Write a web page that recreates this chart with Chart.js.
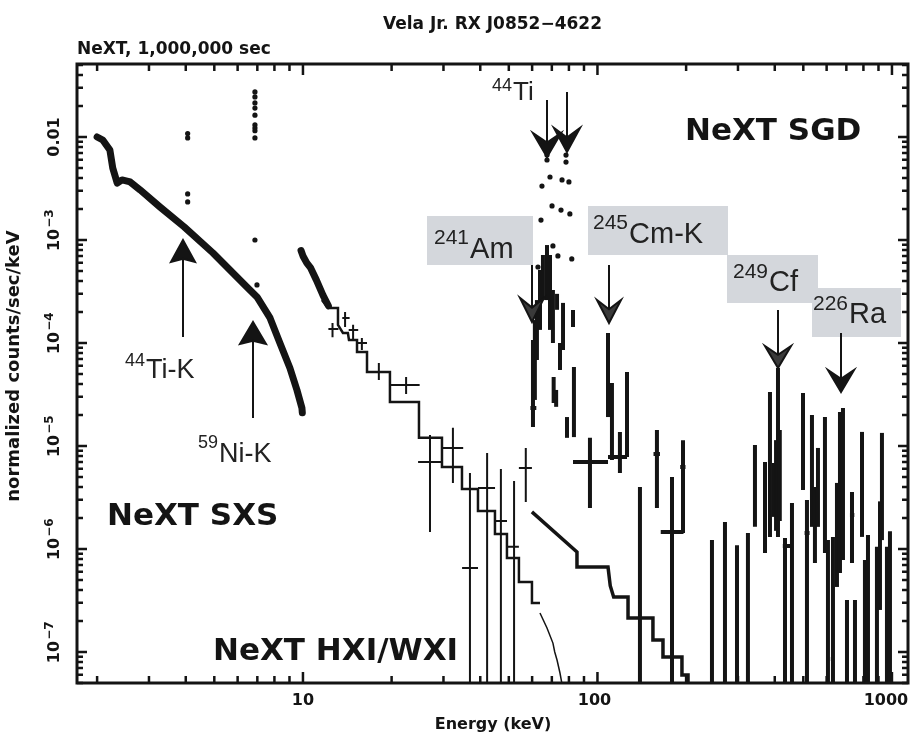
<!DOCTYPE html>
<html>
<head>
<meta charset="utf-8">
<title>Vela Jr. RX J0852-4622</title>
<script src="https://cdn.jsdelivr.net/npm/chart.js@4/dist/chart.umd.min.js"></script>
<style>
  html, body { margin: 0; padding: 0; background: #fff; }
  #chart { display: block; }
</style>
</head>
<body>
<canvas id="chart" width="915" height="737"></canvas>
<script>
// axis ticks
const xTickValues = [10, 100, 1000]
const xTickLabels = ['10', '100', '1000']
const yTickValues = [1e-2, 1e-3, 1e-4, 1e-5, 1e-6, 1e-7]
const yTickBase = ['0.01', '10', '10', '10', '10', '10']
const yTickExp = ['', '−3', '−4', '−5', '−6', '−7']

// NeXT SXS spectrum (keV, counts/sec/keV)
const sxsEnergy = [2.00, 2.09, 2.21, 2.26, 2.34, 2.43, 2.59, 2.80, 3.27, 3.95, 4.95, 6.45, 6.98, 7.73, 8.35, 9.03, 9.54, 9.92, 9.95]
const sxsRate = [1.00e-2, 9.35e-3, 7.48e-3, 5.0e-3, 3.57e-3, 3.83e-3, 3.66e-3, 3.06e-3, 2.09e-3, 1.34e-3, 7.48e-4, 3.5e-4, 2.80e-4, 1.75e-4, 1.0e-4, 5.72e-5, 3.5e-5, 2.34e-5, 2.1e-5]
// narrow lines seen by SXS (Ti-K, Fe/Ni-K)
const sxsLineEnergy = [4.06, 4.06, 4.06, 4.06, 6.87, 6.87, 6.87, 6.87, 6.87, 6.87, 6.87, 6.87, 6.87, 6.87, 6.98]
const sxsLineRate = [1.08e-2, 9.8e-3, 2.8e-3, 2.34e-3, 2.74e-2, 2.45e-2, 2.14e-2, 1.91e-2, 1.63e-2, 1.31e-2, 1.22e-2, 1.15e-2, 9.8e-3, 1.0e-3, 3.66e-4]

// NeXT HXI/WXI
const hxiDenseEnergy = [9.85, 10.0, 10.3, 10.6, 11.1, 11.7, 12.2]
const hxiDenseRate = [7.9e-4, 7.0e-4, 6.0e-4, 5.4e-4, 4.1e-4, 2.9e-4, 2.3e-4]
const hxiEnergy = [12.6, 13.9, 14.8, 15.85, 18.1, 22.4, 27.0, 32.3, 36.9, 42.2, 47.0, 52.1, 57.1]
const hxiRate = [1.37e-4, 1.75e-4, 1.34e-4, 1.0e-4, 5.23e-5, 3.9e-5, 7.0e-6, 9.57e-6, 6.55e-7, 3.91e-6, 1.87e-6, 1.05e-6, 6.1e-6]
// lower errors of 1e-9 run off the bottom of the plot
const hxiLo = [1.14e-4, 1.43e-4, 1.07e-4, 8.55e-5, 4.38e-5, 3.2e-5, 1.46e-6, 4.38e-6, 1e-9, 1e-9, 1e-9, 1e-9, 2.86e-6]
const hxiHi = [1.56e-4, 2.0e-4, 1.5e-4, 1.12e-4, 6.4e-5, 4.68e-5, 1.28e-5, 1.5e-5, 5.47e-6, 8.55e-6, 5.98e-6, 4.57e-6, 9.57e-6]
const hxiELo = [12.2, 13.6, 14.3, 15.3, 16.5, 19.7, 24.6, 29.6, 34.7, 39.3, 44.9, 49.3, 54.1]
const hxiEHi = [13.2, 14.4, 15.4, 16.5, 19.7, 24.9, 29.6, 35.0, 39.3, 44.9, 49.3, 54.1, 59.9]
const hxiModelEnergy = [11.6, 12.16, 13.15, 13.15, 13.67, 14.21, 14.33, 15.26, 15.26, 16.5, 16.5, 19.74, 19.74, 24.77, 24.77, 29.65, 29.65, 34.67, 34.67, 39.29, 39.29, 44.87, 44.87, 49.28, 49.28, 54.12, 54.12, 59.92, 59.92, 63.8]
const hxiModelRate = [2.61e-4, 2.19e-4, 2.19e-4, 1.50e-4, 1.25e-4, 1.25e-4, 1.07e-4, 1.07e-4, 8.18e-5, 8.18e-5, 5.23e-5, 5.23e-5, 2.67e-5, 2.67e-5, 1.2e-5, 1.2e-5, 6.25e-6, 6.25e-6, 3.83e-6, 3.83e-6, 2.34e-6, 2.34e-6, 1.4e-6, 1.4e-6, 8.18e-7, 8.18e-7, 4.79e-7, 4.79e-7, 2.99e-7, 2.99e-7]
const hxiTailEnergy = [63.8, 67.4, 70.6, 71.6, 72.9, 74.6, 76.4]
const hxiTailRate = [2.39e-7, 1.71e-7, 1.22e-7, 1.0e-7, 8.35e-8, 6.25e-8, 4.3e-8]

// NeXT SGD
const sgdLineEnergy = [67.4, 67.4, 78.2, 78.2, 69.0, 64.8, 75.8, 80.0, 70.1, 64.3, 75.2, 80.6, 70.6, 73.4, 81.8, 62.8]
const sgdLineRate = [6.68e-3, 5.98e-3, 6.68e-3, 5.71e-3, 4.09e-3, 3.34e-3, 3.83e-3, 3.66e-3, 2.14e-3, 1.56e-3, 1.95e-3, 1.79e-3, 8.75e-4, 7.0e-4, 6.55e-4, 5.47e-4]
const sgdEnergy = [60.4, 61.3, 62.3, 63.8, 65.3, 67.4, 69.0, 70.6, 72.9, 74.6, 76.4, 82.6, 71.0, 72.4, 78.8, 83.2,
  108.6, 112.0, 119.2, 126.0, 94.3, 139.4, 159.2, 179.1, 195.2,
  244.8, 271.0, 297.7, 324.3, 342.6, 370.6, 385.3, 397.5, 404, 410.2, 416, 433.3, 457.6, 498.7, 514.5, 535.0, 547.6, 560.7,
  592.2, 606.3, 630.5, 650.5, 666.0, 681.8, 703.5, 731.6, 748.9, 791.0, 809.6, 829.0, 889.2, 910.5, 924.7, 961.6, 984.5]
const sgdRate = [2.34e-5, 6.4e-5, 1.34e-4, 2.45e-4, 4.38e-4, 7.0e-4, 3.5e-4, 1.8e-4, 2.5e-4, 7.5e-5, 1.4e-4, 1.7e-4, 3.5e-5, 3.0e-5, 1.5e-5, 3.4e-5,
  7.3e-5, 2.3e-5, 7.82e-6, 3.0e-5, 7.0e-6, 2.0e-6, 8.36e-6, 1.46e-6, 6.25e-6,
  4e-7, 5e-7, 4e-7, 4e-7, 6.25e-6, 3.9e-6, 6e-6, 4e-6, 4e-6, 5e-6, 5e-6, 1.07e-6, 1.07e-6, 1.1e-5, 1.43e-6, 5e-6, 1.8e-6, 4e-6,
  3e-6, 3e-7, 8.55e-8, 1.5e-6, 3e-6, 5e-6, 1.46e-7, 2.14e-6, 1e-7, 4e-6, 2e-7, 3.83e-7, 1.75e-7, 1e-6, 4e-6, 3e-7, 4e-7]
const sgdLo = [1.53e-5, 2.8e-5, 6.84e-5, 1.34e-4, 2.61e-4, 2.61e-4, 1.34e-4, 1.0e-4, 2.1e-4, 5.47e-5, 8.55e-5, 1.43e-4, 2.61e-5, 2.4e-5, 1.2e-5, 1.22e-5,
  1.91e-5, 7.31e-6, 5.47e-6, 7.82e-6, 2.5e-6, 1e-9, 2.5e-6, 1e-9, 1.43e-6,
  1e-9, 1e-9, 1e-9, 1e-9, 1.64e-6, 9.14e-7, 1.31e-6, 2.05e-6, 1.5e-6, 1.31e-6, 1.87e-6, 1e-9, 1e-9, 3.74e-6, 1e-9, 1.64e-6, 7.31e-7, 1.64e-6,
  9.14e-7, 1e-9, 1e-9, 4.28e-7, 5.85e-7, 7.82e-7, 1e-9, 7.31e-7, 1e-9, 1.31e-6, 1e-9, 1e-9, 1e-9, 2.56e-7, 1.22e-6, 1e-9, 1e-9]
const sgdHi = [1.07e-4, 1.67e-4, 2.61e-4, 5.12e-4, 7.15e-4, 8.93e-4, 7.15e-4, 3.27e-4, 3.0e-4, 1.0e-4, 2.45e-4, 2.09e-4, 4.68e-5, 3.5e-5, 1.91e-5, 5.85e-5,
  1.25e-4, 4.09e-5, 1.37e-5, 5.23e-5, 1.2e-5, 4.0e-6, 1.43e-5, 5.0e-6, 1.14e-5,
  1.22e-6, 1.83e-6, 1.09e-6, 1.43e-6, 1.02e-5, 7.0e-6, 3.34e-5, 6.84e-6, 1.14e-5, 5.72e-5, 1.43e-5, 1.28e-6, 2.8e-6, 3.27e-5, 2.99e-6, 2.0e-5, 4.0e-6, 9.57e-6,
  1.91e-5, 1.22e-6, 1.31e-6, 4.38e-6, 2.14e-5, 2.34e-5, 3.2e-7, 3.57e-6, 3.2e-7, 1.37e-5, 7.82e-7, 1.37e-6, 1.05e-6, 2.9e-6, 1.34e-5, 1.05e-6, 1.49e-6]
const sgdELo = [59.2, 61.3, 62.3, 63.8, 65.3, 67.4, 69.0, 70.6, 72.9, 74.6, 76.4, 82.6, 70.2, 72.4, 78.8, 83.2,
  108.6, 112.0, 108.6, 126.0, 82.6, 139.4, 155, 164, 191,
  244.8, 271.0, 297.7, 324.3, 338, 366, 385.3, 397.5, 404, 410.2, 416, 426, 457.6, 498.7, 505, 535.0, 547.6, 560.7,
  592.2, 606.3, 620, 650.5, 666.0, 681.8, 693, 720, 748.9, 791.0, 809.6, 820, 880, 910.5, 924.7, 961.6, 984.5]
const sgdEHi = [62.0, 61.3, 62.3, 63.8, 65.3, 67.4, 69.0, 70.6, 72.9, 74.6, 76.4, 82.6, 71.8, 72.4, 78.8, 83.2,
  108.6, 112.0, 126.0, 126.0, 108.6, 139.4, 163, 196, 199,
  244.8, 271.0, 297.7, 324.3, 347, 375, 385.3, 397.5, 404, 410.2, 416, 460, 457.6, 498.7, 525, 535.0, 547.6, 560.7,
  592.2, 606.3, 640, 650.5, 666.0, 681.8, 714, 745, 748.9, 791.0, 809.6, 840, 900, 910.5, 924.7, 961.6, 984.5]
const sgdModelEnergy = [59.9, 85.2, 85.2, 108.6, 110.5, 113.5, 127, 127, 154.3, 154.3, 166.9, 166.9, 193.6, 193.6, 203, 203]
const sgdModelRate = [2.29e-6, 9.35e-7, 6.68e-7, 6.68e-7, 4.4e-7, 3.42e-7, 3.42e-7, 2.14e-7, 2.14e-7, 1.31e-7, 1.31e-7, 8.94e-8, 8.94e-8, 5.98e-8, 5.98e-8, 4.0e-8]

const INK = '#141414'
const BOLD = '"DejaVu Sans", sans-serif'
const PLAIN = '"Liberation Sans", Arial, sans-serif'

function pts(xs, ys) {
  return xs.map((x, i) => ({x: x, y: ys[i]}))
}

// annotation layout (canvas pixels)
const isotopeLabels = [
  {sup: '44', main: 'Ti', x: 492, base: 100, supPx: 18, mainPx: 26, rise: 9},
  {sup: '44', main: 'Ti-K', x: 125, base: 378, supPx: 18, mainPx: 27, rise: 12},
  {sup: '59', main: 'Ni-K', x: 198, base: 462, supPx: 18, mainPx: 27, rise: 14},
  {sup: '241', main: 'Am', x: 434, base: 258, supPx: 21, mainPx: 29, rise: 14},
  {sup: '245', main: 'Cm-K', x: 593, base: 243, supPx: 21, mainPx: 29, rise: 14},
  {sup: '249', main: 'Cf', x: 733, base: 291, supPx: 21, mainPx: 29, rise: 13},
  {sup: '226', main: 'Ra', x: 813, base: 323, supPx: 21, mainPx: 29, rise: 13}
]
const labelBoxes = [[427, 216, 533, 265], [588, 206, 728, 255], [727, 255, 818, 303], [812, 288, 901, 337]]
// x, tail y, tip y, half width, head length, fill
const arrows = [
  [183, 337, 240, 12, 22, INK],
  [253, 418, 322, 13, 22, INK],
  [547, 100, 157, 14, 24, INK],
  [567, 92, 152, 13, 24, INK],
  [532, 265, 322, 12, 24, '#3a3a3a'],
  [609, 265, 323, 12, 23, '#3a3a3a'],
  [778, 310, 368, 13, 22, '#3a3a3a'],
  [841, 333, 392, 13, 22, INK]
]
const instrumentLabels = [['NeXT SGD', 685, 140], ['NeXT SXS', 107, 525], ['NeXT HXI/WXI', 213, 660]]

const errorBarPlugin = {
  id: 'errorBars',
  afterDatasetsDraw(chart) {
    const {ctx, chartArea: a, scales: {x, y}} = chart
    ctx.save()
    ctx.beginPath()
    ctx.rect(a.left, a.top, a.right - a.left, a.bottom - a.top)
    ctx.clip()
    chart.data.datasets.forEach((ds) => {
      if (!ds.err) return
      ctx.strokeStyle = ds.borderColor
      ctx.lineWidth = ds.err.width
      ds.data.forEach((p, j) => {
        const px = x.getPixelForValue(p.x)
        const py = y.getPixelForValue(p.y)
        ctx.beginPath()
        ctx.moveTo(px, y.getPixelForValue(ds.err.hi[j]))
        ctx.lineTo(px, y.getPixelForValue(ds.err.lo[j]))
        if (ds.err.eLo[j] !== ds.err.eHi[j]) {
          ctx.moveTo(x.getPixelForValue(ds.err.eLo[j]), py)
          ctx.lineTo(x.getPixelForValue(ds.err.eHi[j]), py)
        }
        ctx.stroke()
      })
    })
    ctx.restore()
  }
}

function drawArrow(ctx, x, y0, y1, hw, h, fill) {
  const dir = y1 > y0 ? 1 : -1
  const notch = dir > 0 ? 0.6 : 0.85
  ctx.beginPath()
  ctx.moveTo(x, y0)
  ctx.lineTo(x, y1 - dir * h * 0.5)
  ctx.stroke()
  ctx.beginPath()
  ctx.moveTo(x, y1)
  ctx.lineTo(x - hw, y1 - dir * h)
  ctx.lineTo(x, y1 - dir * h * notch)
  ctx.lineTo(x + hw, y1 - dir * h)
  ctx.closePath()
  ctx.fillStyle = fill
  ctx.fill()
  ctx.stroke()
}

const decorPlugin = {
  id: 'decor',
  beforeDraw(chart) {
    const ctx = chart.ctx
    ctx.save()
    ctx.fillStyle = '#fff'
    ctx.fillRect(0, 0, chart.width, chart.height)
    ctx.restore()
  },
  afterDraw(chart) {
    const {ctx, chartArea: a, scales: {x, y}} = chart
    ctx.save()
    ctx.strokeStyle = INK
    ctx.fillStyle = INK

    // frame
    ctx.lineWidth = 3
    ctx.strokeRect(a.left, a.top, a.right - a.left, a.bottom - a.top)

    // inward ticks on all four sides
    ctx.lineWidth = 2.5
    ctx.beginPath()
    for (let d = 0; d <= 3; d++) {
      for (let m = 1; m <= 9; m++) {
        const v = m * Math.pow(10, d)
        if (v < x.min || v > x.max) continue
        const px = x.getPixelForValue(v)
        const len = m === 1 ? 11 : 7
        ctx.moveTo(px, a.bottom); ctx.lineTo(px, a.bottom - len)
        ctx.moveTo(px, a.top); ctx.lineTo(px, a.top + len)
      }
    }
    for (let d = -8; d <= -2; d++) {
      for (let m = 1; m <= 9; m++) {
        const v = m * Math.pow(10, d)
        if (v < y.min || v > y.max) continue
        const py = y.getPixelForValue(v)
        const len = m === 1 ? 10 : 6
        ctx.moveTo(a.left, py); ctx.lineTo(a.left + len, py)
        ctx.moveTo(a.right, py); ctx.lineTo(a.right - len, py)
      }
    }
    ctx.stroke()

    // x tick labels
    ctx.font = 'bold 16px ' + BOLD
    ctx.textAlign = 'center'
    ctx.textBaseline = 'middle'
    xTickValues.forEach((v, i) => {
      const shift = (xTickLabels[i].length - 2) * 3
      ctx.fillText(xTickLabels[i], x.getPixelForValue(v) - shift, a.bottom + 18)
    })

    // y tick labels, rotated, with superscript exponents
    yTickValues.forEach((v, i) => {
      ctx.save()
      ctx.translate(a.left - 18, y.getPixelForValue(v))
      ctx.rotate(-Math.PI / 2)
      ctx.textBaseline = 'alphabetic'
      ctx.textAlign = 'center'
      ctx.font = 'bold 16px ' + BOLD
      ctx.fillText(yTickBase[i], 0, 0)
      if (yTickExp[i]) {
        const w = ctx.measureText(yTickBase[i]).width
        ctx.textAlign = 'left'
        ctx.font = 'bold 12px ' + BOLD
        ctx.fillText(yTickExp[i], w / 2 + 1, -6)
      }
      ctx.restore()
    })

    // titles
    ctx.font = 'bold 17px ' + BOLD
    ctx.textAlign = 'center'
    ctx.textBaseline = 'middle'
    ctx.fillText('Vela Jr. RX J0852−4622', (a.left + a.right) / 2, 25)
    ctx.textAlign = 'left'
    ctx.fillText('NeXT, 1,000,000 sec', a.left, 50)
    ctx.textAlign = 'center'
    ctx.font = 'bold 16px ' + BOLD
    ctx.fillText('Energy (keV)', 493, 725)
    ctx.save()
    ctx.translate(14, 366)
    ctx.rotate(-Math.PI / 2)
    ctx.font = 'bold 18px ' + BOLD
    ctx.fillText('normalized counts/sec/keV', 0, 0)
    ctx.restore()

    // instrument names
    ctx.font = 'bold 31px ' + BOLD
    ctx.textAlign = 'left'
    ctx.textBaseline = 'alphabetic'
    instrumentLabels.forEach((l) => ctx.fillText(l[0], l[1], l[2]))

    // grey label boxes
    ctx.fillStyle = '#d4d7dc'
    labelBoxes.forEach((b) => ctx.fillRect(b[0], b[1], b[2] - b[0], b[3] - b[1]))

    // isotope labels
    ctx.fillStyle = '#222'
    isotopeLabels.forEach((l) => {
      ctx.font = l.supPx + 'px ' + PLAIN
      ctx.fillText(l.sup, l.x, l.base - l.rise)
      const w = ctx.measureText(l.sup).width
      ctx.font = l.mainPx + 'px ' + PLAIN
      ctx.fillText(l.main, l.x + w + 1, l.base)
    })

    // arrows
    ctx.strokeStyle = INK
    ctx.lineWidth = 2
    arrows.forEach((r) => drawArrow(ctx, r[0], r[1], r[2], r[3], r[4], r[5]))

    ctx.restore()
  }
}

new Chart(document.getElementById('chart'), {
  type: 'scatter',
  data: {
    datasets: [
      {label: 'SXS', data: pts(sxsEnergy, sxsRate), showLine: true, borderColor: INK, borderWidth: 7,
        borderJoinStyle: 'round', borderCapStyle: 'round', pointRadius: 0},
      {label: 'SXS lines', data: pts(sxsLineEnergy, sxsLineRate), pointRadius: 2.6, pointBorderWidth: 0,
        backgroundColor: INK, borderColor: INK},
      {label: 'HXI', data: pts(hxiDenseEnergy, hxiDenseRate), showLine: true, borderColor: INK, borderWidth: 7,
        borderJoinStyle: 'round', borderCapStyle: 'round', pointRadius: 0},
      {label: 'HXI model', data: pts(hxiModelEnergy, hxiModelRate), showLine: true, borderColor: INK,
        borderWidth: 2.5, pointRadius: 0},
      {label: 'HXI model tail', data: pts(hxiTailEnergy, hxiTailRate), showLine: true, borderColor: INK,
        borderWidth: 1.5, pointRadius: 0},
      {label: 'HXI data', data: pts(hxiEnergy, hxiRate), pointRadius: 0, borderColor: INK,
        err: {lo: hxiLo, hi: hxiHi, eLo: hxiELo, eHi: hxiEHi, width: 2}},
      {label: 'SGD model', data: pts(sgdModelEnergy, sgdModelRate), showLine: true, borderColor: INK,
        borderWidth: 3.5, pointRadius: 0},
      {label: 'SGD lines', data: pts(sgdLineEnergy, sgdLineRate), pointRadius: 2.6, pointBorderWidth: 0,
        backgroundColor: INK, borderColor: INK},
      {label: 'SGD data', data: pts(sgdEnergy, sgdRate), pointRadius: 0, borderColor: INK,
        err: {lo: sgdLo, hi: sgdHi, eLo: sgdELo, eHi: sgdEHi, width: 4}}
    ]
  },
  options: {
    responsive: false,
    animation: false,
    devicePixelRatio: 1,
    layout: {padding: {left: 77, top: 64, right: 7, bottom: 54}},
    plugins: {legend: {display: false}, tooltip: {enabled: false}},
    scales: {
      x: {type: 'logarithmic', min: 1.709, max: 1133.6, display: false},
      y: {type: 'logarithmic', min: 5.0e-8, max: 0.05112, display: false}
    }
  },
  plugins: [errorBarPlugin, decorPlugin]
})
</script>
</body>
</html>
